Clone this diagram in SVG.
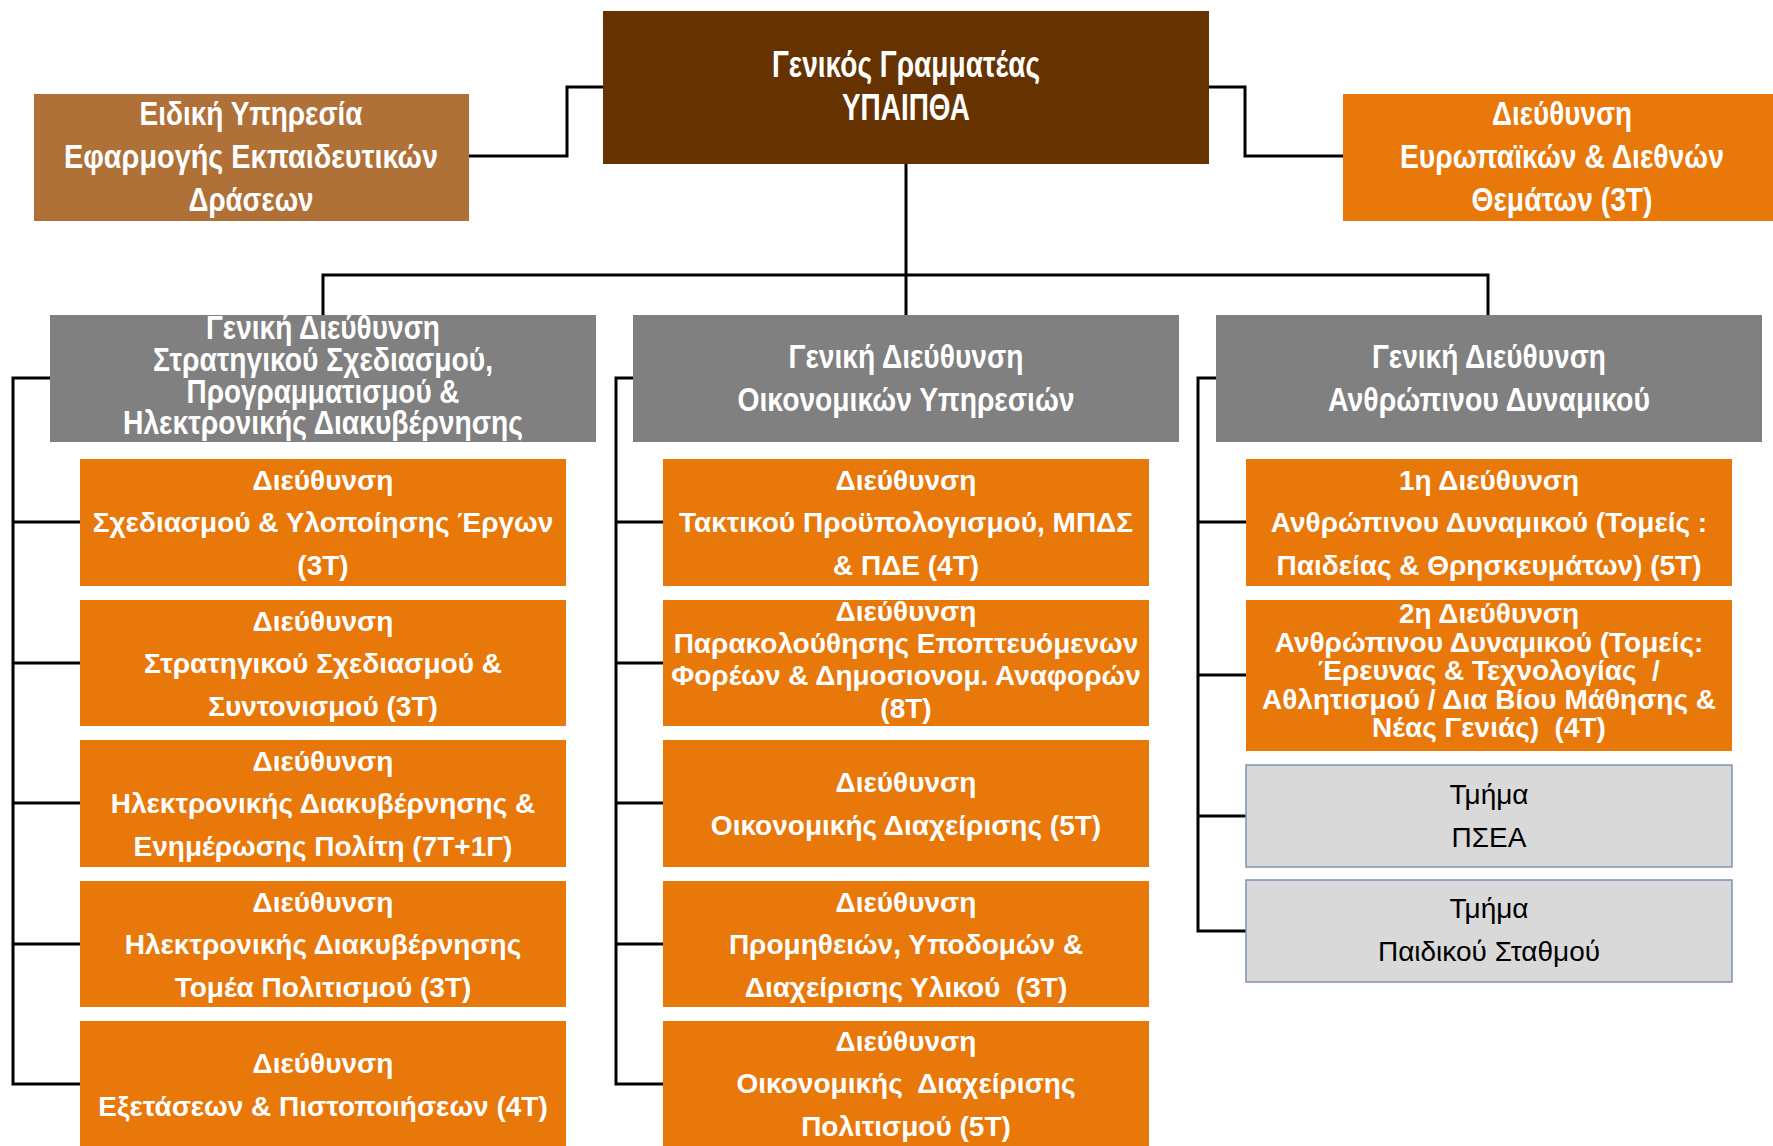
<svg xmlns="http://www.w3.org/2000/svg" width="1773" height="1146" viewBox="0 0 1773 1146">
<style>
.bg{fill:#ffffff}
.top{fill:#663300}
.side{fill:#B07139}
.org{fill:#E8780A}
.gd{fill:#808080}
.lt{fill:#D9D9D9;stroke:#7F93B5;stroke-width:1.5}
.n{font-family:"Liberation Sans Narrow","Arial Narrow","Liberation Sans",Arial,sans-serif;font-weight:bold;fill:#ffffff;text-anchor:middle}
.b{font-family:"Liberation Sans",Arial,sans-serif;font-weight:bold;font-size:28px;fill:#ffffff;text-anchor:middle}
.r{font-family:"Liberation Sans",Arial,sans-serif;font-size:28px;fill:#000000;text-anchor:middle}
.c{fill:none;stroke:#000000;stroke-width:3}
</style>
<rect class="bg" x="0" y="0" width="1773" height="1146"/>
<g id="connectors">
<path class="c" d="M603,87 H567 V156 H469"/>
<path class="c" d="M1209,87 H1245 V156 H1343"/>
<path class="c" d="M906,164 V315"/>
<path class="c" d="M323,315 V275 H1488 V315"/>
<path class="c" d="M50,378 H13 V1084 H80 M13,522 H80 M13,663 H80 M13,803 H80 M13,944 H80"/>
<path class="c" d="M633,378 H616 V1084 H663 M616,522 H663 M616,663 H663 M616,803 H663 M616,944 H663"/>
<path class="c" d="M1216,378 H1198 V931 H1246 M1198,522 H1246 M1198,675 H1246 M1198,816 H1246"/>
</g>
<g id="gen-sec">
<rect class="top" x="603" y="11" width="606" height="153"/>
<text class="n" font-size="36" x="906" y="77" textLength="268" lengthAdjust="spacingAndGlyphs">Γενικός Γραμματέας</text>
<text class="n" font-size="36" x="906" y="120" textLength="128" lengthAdjust="spacingAndGlyphs">ΥΠΑΙΠΘΑ</text>
</g>
<g id="special">
<rect class="side" x="34" y="94" width="435" height="127"/>
<text class="n" font-size="34" x="251" y="125" textLength="223" lengthAdjust="spacingAndGlyphs">Ειδική Υπηρεσία</text>
<text class="n" font-size="34" x="251" y="168" textLength="374" lengthAdjust="spacingAndGlyphs">Εφαρμογής  Εκπαιδευτικών</text>
<text class="n" font-size="34" x="251" y="211" textLength="125" lengthAdjust="spacingAndGlyphs">Δράσεων</text>
</g>
<g id="intl">
<rect class="org" x="1343" y="94" width="430" height="127"/>
<text class="n" font-size="34" x="1562" y="125" textLength="140" lengthAdjust="spacingAndGlyphs">Διεύθυνση</text>
<text class="n" font-size="34" x="1562" y="168" textLength="324" lengthAdjust="spacingAndGlyphs">Ευρωπαϊκών &amp; Διεθνών</text>
<text class="n" font-size="34" x="1562" y="211" textLength="181" lengthAdjust="spacingAndGlyphs">Θεμάτων (3Τ)</text>
</g>
<g id="gd1">
<rect class="gd" x="50" y="315" width="546" height="127"/>
<text class="n" font-size="34" x="323" y="339" textLength="234" lengthAdjust="spacingAndGlyphs">Γενική Διεύθυνση</text>
<text class="n" font-size="34" x="323" y="371" textLength="340" lengthAdjust="spacingAndGlyphs">Στρατηγικού Σχεδιασμού,</text>
<text class="n" font-size="34" x="323" y="403" textLength="273" lengthAdjust="spacingAndGlyphs">Προγραμματισμού &amp;</text>
<text class="n" font-size="34" x="323" y="434" textLength="400" lengthAdjust="spacingAndGlyphs">Ηλεκτρονικής Διακυβέρνησης</text>
</g>
<g id="gd2">
<rect class="gd" x="633" y="315" width="546" height="127"/>
<text class="n" font-size="34" x="906" y="368" textLength="235" lengthAdjust="spacingAndGlyphs">Γενική Διεύθυνση</text>
<text class="n" font-size="34" x="906" y="411" textLength="337" lengthAdjust="spacingAndGlyphs">Οικονομικών Υπηρεσιών</text>
</g>
<g id="gd3">
<rect class="gd" x="1216" y="315" width="546" height="127"/>
<text class="n" font-size="34" x="1489" y="368" textLength="234" lengthAdjust="spacingAndGlyphs">Γενική Διεύθυνση</text>
<text class="n" font-size="34" x="1489" y="411" textLength="322" lengthAdjust="spacingAndGlyphs">Ανθρώπινου Δυναμικού</text>
</g>
<g id="d1-1">
<rect class="org" x="80" y="459" width="486" height="127"/>
<text class="b" x="323" y="490">Διεύθυνση</text>
<text class="b" x="323" y="532">Σχεδιασμού &amp; Υλοποίησης Έργων</text>
<text class="b" x="323" y="575">(3Τ)</text>
</g>
<g id="d1-2">
<rect class="org" x="80" y="600" width="486" height="126"/>
<text class="b" x="323" y="631">Διεύθυνση</text>
<text class="b" x="323" y="673">Στρατηγικού Σχεδιασμού &amp;</text>
<text class="b" x="323" y="716">Συντονισμού (3Τ)</text>
</g>
<g id="d1-3">
<rect class="org" x="80" y="740" width="486" height="127"/>
<text class="b" x="323" y="771">Διεύθυνση</text>
<text class="b" x="323" y="813">Ηλεκτρονικής Διακυβέρνησης &amp;</text>
<text class="b" x="323" y="856">Ενημέρωσης Πολίτη (7Τ+1Γ)</text>
</g>
<g id="d1-4">
<rect class="org" x="80" y="881" width="486" height="126"/>
<text class="b" x="323" y="912">Διεύθυνση</text>
<text class="b" x="323" y="954">Ηλεκτρονικής Διακυβέρνησης</text>
<text class="b" x="323" y="997">Τομέα Πολιτισμού (3Τ)</text>
</g>
<g id="d1-5">
<rect class="org" x="80" y="1021" width="486" height="126"/>
<text class="b" x="323" y="1073">Διεύθυνση</text>
<text class="b" x="323" y="1116">Εξετάσεων &amp; Πιστοποιήσεων (4Τ)</text>
</g>
<g id="d2-1">
<rect class="org" x="663" y="459" width="486" height="127"/>
<text class="b" x="906" y="490">Διεύθυνση</text>
<text class="b" x="906" y="532">Τακτικού Προϋπολογισμού, ΜΠΔΣ</text>
<text class="b" x="906" y="575">&amp; ΠΔΕ (4Τ)</text>
</g>
<g id="d2-2">
<rect class="org" x="663" y="600" width="486" height="126"/>
<text class="b" x="906" y="621">Διεύθυνση</text>
<text class="b" x="906" y="653">Παρακολούθησης Εποπτευόμενων</text>
<text class="b" x="906" y="685">Φορέων &amp; Δημοσιονομ. Αναφορών</text>
<text class="b" x="906" y="718">(8Τ)</text>
</g>
<g id="d2-3">
<rect class="org" x="663" y="740" width="486" height="127"/>
<text class="b" x="906" y="792">Διεύθυνση</text>
<text class="b" x="906" y="835">Οικονομικής Διαχείρισης (5Τ)</text>
</g>
<g id="d2-4">
<rect class="org" x="663" y="881" width="486" height="126"/>
<text class="b" x="906" y="912">Διεύθυνση</text>
<text class="b" x="906" y="954">Προμηθειών, Υποδομών &amp;</text>
<text class="b" x="906" y="997" xml:space="preserve">Διαχείρισης Υλικού  (3Τ)</text>
</g>
<g id="d2-5">
<rect class="org" x="663" y="1021" width="486" height="126"/>
<text class="b" x="906" y="1051">Διεύθυνση</text>
<text class="b" x="906" y="1093" xml:space="preserve">Οικονομικής  Διαχείρισης</text>
<text class="b" x="906" y="1136">Πολιτισμού (5Τ)</text>
</g>
<g id="d3-1">
<rect class="org" x="1246" y="459" width="486" height="127"/>
<text class="b" x="1489" y="490">1η Διεύθυνση</text>
<text class="b" x="1489" y="532">Ανθρώπινου Δυναμικού (Τομείς :</text>
<text class="b" x="1489" y="575">Παιδείας &amp; Θρησκευμάτων) (5Τ)</text>
</g>
<g id="d3-2">
<rect class="org" x="1246" y="600" width="486" height="151"/>
<text class="b" x="1489" y="623">2η Διεύθυνση</text>
<text class="b" x="1489" y="652">Ανθρώπινου Δυναμικού (Τομείς:</text>
<text class="b" x="1489" y="680" xml:space="preserve">Έρευνας &amp; Τεχνολογίας  /</text>
<text class="b" x="1489" y="709">Αθλητισμού / Δια Βίου Μάθησης &amp;</text>
<text class="b" x="1489" y="737" xml:space="preserve">Νέας Γενιάς)  (4Τ)</text>
</g>
<g id="t-psea">
<rect class="lt" x="1246" y="765" width="486" height="102"/>
<text class="r" x="1489" y="804">Τμήμα</text>
<text class="r" x="1489" y="847">ΠΣΕΑ</text>
</g>
<g id="t-paid">
<rect class="lt" x="1246" y="880" width="486" height="102"/>
<text class="r" x="1489" y="918">Τμήμα</text>
<text class="r" x="1489" y="961">Παιδικού Σταθμού</text>
</g>
</svg>
